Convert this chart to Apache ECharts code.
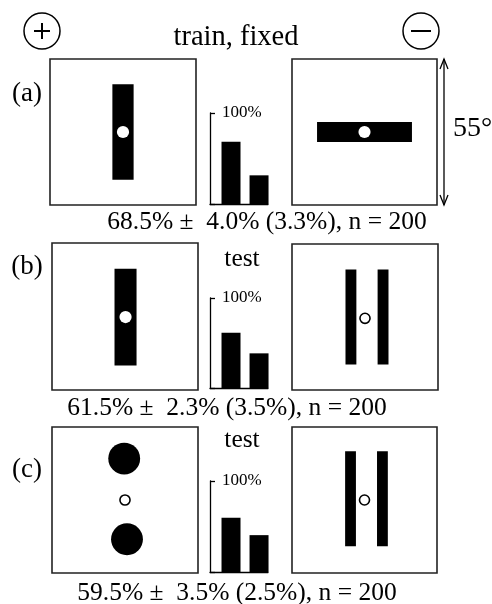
<!DOCTYPE html>
<html>
<head>
<meta charset="utf-8">
<script src="https://cdn.jsdelivr.net/npm/echarts@6/dist/echarts.min.js"></script>
<style>
html,body{margin:0;padding:0;background:#fff;}
#chart{width:492px;height:604px;}
</style>
</head>
<body>
<div id="chart"></div>
<script>
// ---------- data ----------
const conditionLabels = ['(a)', '(b)', '(c)'];
const panelTitles = ['train, fixed', 'test', 'test'];
const responseCategories = ['+', '\u2212'];
const percentA = [68.5, 31.5];
const percentB = [61.5, 38.5];
const percentC = [59.5, 40.5];
const statLabels = [
  '68.5% \u00b1  4.0% (3.3%), n = 200',
  '61.5% \u00b1  2.3% (3.5%), n = 200',
  '59.5% \u00b1  3.5% (2.5%), n = 200'
];
const percentTicks = [0, 100];
const percentTickLabels = ['', '100%'];
const fieldOfView = 55; // degrees
const fieldLabel = '55\u00b0';

// stimulus geometry in degrees of visual angle (centre x, centre y, width/height or radius)
const stimAPos = [['bar', 0, 0, 8, 36], ['fix', 0, 0, 2.3]];
const stimANeg = [['bar', 0, 0, 36, 7.6], ['fix', 0, 0, 2.3]];
const stimBPos = [['bar', 0.2, -0.2, 8.3, 36.2], ['fix', 0.2, -0.2, 2.3]];
const stimBNeg = [['bar', -5.3, 0, 4.1, 35.8], ['bar', 6.8, 0, 4.1, 35.8], ['ring', 0, -0.5, 1.9]];
const stimCPos = [['disk', -0.3, 15.6, 6], ['disk', 0.75, -14.8, 6], ['ring', 0, 0, 1.9]];
const stimCNeg = [['bar', -5.3, 0.45, 4.1, 35.8], ['bar', 6.8, 0.45, 4.1, 35.8], ['ring', 0, 0, 1.9]];

// ---------- layout ----------
const SERIF = "'Liberation Serif', 'Times New Roman', serif";
const percents = [percentA, percentB, percentC];
const stimuli = [stimAPos, stimANeg, stimBPos, stimBNeg, stimCPos, stimCNeg];

const barGrids = [
  {left: 210, top: 113, width: 58, height: 91},
  {left: 210, top: 298, width: 58, height: 90},
  {left: 210, top: 481, width: 58, height: 91}
];
const boxGrids = [
  {left: 50, top: 59, width: 146, height: 146},
  {left: 292, top: 59, width: 145, height: 146},
  {left: 52, top: 243, width: 146, height: 147},
  {left: 292, top: 244, width: 146, height: 146},
  {left: 52, top: 427, width: 146, height: 146},
  {left: 292, top: 427, width: 145, height: 146}
];

const grid = [], xAxis = [], yAxis = [], series = [];

barGrids.forEach((g, i) => {
  grid.push(Object.assign({outerBoundsMode: 'none', containLabel: false}, g));
  xAxis.push({
    type: 'value', gridIndex: i, min: -0.75, max: 1.32,
    axisLine: {show: true, lineStyle: {color: '#000', width: 1.3}},
    axisTick: {show: false}, axisLabel: {show: false}, splitLine: {show: false}
  });
  yAxis.push({
    type: 'value', gridIndex: i, min: percentTicks[0], max: percentTicks[1], interval: 100,
    axisLine: {show: true, onZero: false, lineStyle: {color: '#000', width: 1.3}},
    axisTick: {show: true, inside: true, length: 5, lineStyle: {color: '#000', width: 1.3}},
    axisLabel: {
      show: true, inside: true, margin: 12, color: '#000',
      fontFamily: SERIF, fontSize: 17,
      formatter: v => percentTickLabels[percentTicks.indexOf(v)] || ''
    },
    splitLine: {show: false}
  });
  series.push({
    type: 'bar', xAxisIndex: i, yAxisIndex: i,
    barWidth: 19, itemStyle: {color: '#000'},
    data: percents[i].map((v, k) => [k, v]),
    silent: true, animation: false
  });
});

function makeRender(shapes) {
  return function (params, api) {
    const s = shapes[params.dataIndex];
    if (s[0] === 'bar') {
      const p1 = api.coord([s[1] - s[3] / 2, s[2] + s[4] / 2]);
      const p2 = api.coord([s[1] + s[3] / 2, s[2] - s[4] / 2]);
      return {type: 'rect', shape: {x: p1[0], y: p1[1], width: p2[0] - p1[0], height: p2[1] - p1[1]},
              style: {fill: '#000'}};
    }
    const c = api.coord([s[1], s[2]]);
    const r = api.size([s[3], 0])[0];
    if (s[0] === 'disk') return {type: 'circle', shape: {cx: c[0], cy: c[1], r: r}, style: {fill: '#000'}};
    if (s[0] === 'fix') return {type: 'circle', shape: {cx: c[0], cy: c[1], r: r}, style: {fill: '#fff'}};
    return {type: 'circle', shape: {cx: c[0], cy: c[1], r: r}, style: {fill: '#fff', stroke: '#000', lineWidth: 1.6}};
  };
}

boxGrids.forEach((g, j) => {
  const gi = 3 + j;
  grid.push(Object.assign({outerBoundsMode: 'none', containLabel: false, show: true,
    borderColor: '#222', borderWidth: 1.6, backgroundColor: '#fff'}, g));
  const half = fieldOfView / 2;
  xAxis.push({type: 'value', gridIndex: gi, min: -half, max: half, show: false});
  yAxis.push({type: 'value', gridIndex: gi, min: -half, max: half, show: false});
  series.push({
    type: 'custom', xAxisIndex: gi, yAxisIndex: gi, clip: true,
    renderItem: makeRender(stimuli[j]),
    data: stimuli[j].map(s => [s[1], s[2]]),
    silent: true, animation: false
  });
});

function txt(text, x, y, size, align) {
  return {type: 'text', x: x, y: y, silent: true,
    style: {text: text, font: size + 'px ' + SERIF, fill: '#000', align: align || 'center', verticalAlign: 'middle'}};
}

const graphic = [
  txt(panelTitles[0], 236, 38, 28.5),
  txt(panelTitles[1], 242, 259, 25.5),
  txt(panelTitles[2], 242, 440, 25.5),
  txt(conditionLabels[0], 27, 94, 27),
  txt(conditionLabels[1], 27, 267, 27),
  txt(conditionLabels[2], 27, 470, 27),
  txt(statLabels[0], 267, 222, 25.5),
  txt(statLabels[1], 227, 408, 25.5),
  txt(statLabels[2], 237, 593, 25.5),
  txt(fieldLabel, 453, 129, 28, 'left'),
  // + and − response symbols
  {type: 'circle', shape: {cx: 42, cy: 31, r: 18}, style: {fill: 'none', stroke: '#000', lineWidth: 1.5}},
  {type: 'line', shape: {x1: 34, y1: 31, x2: 50, y2: 31}, style: {stroke: '#000', lineWidth: 2}},
  {type: 'line', shape: {x1: 42, y1: 23, x2: 42, y2: 39}, style: {stroke: '#000', lineWidth: 2}},
  {type: 'circle', shape: {cx: 421, cy: 31, r: 18}, style: {fill: 'none', stroke: '#000', lineWidth: 1.5}},
  {type: 'line', shape: {x1: 411, y1: 31, x2: 431, y2: 31}, style: {stroke: '#000', lineWidth: 2}},
  // 55° extent arrow
  {type: 'line', shape: {x1: 444, y1: 59, x2: 444, y2: 205}, style: {stroke: '#000', lineWidth: 1.3}},
  {type: 'polyline', shape: {points: [[440, 69], [444, 59], [448, 69]]}, style: {fill: 'none', stroke: '#000', lineWidth: 1.3}},
  {type: 'polyline', shape: {points: [[440, 195], [444, 205], [448, 195]]}, style: {fill: 'none', stroke: '#000', lineWidth: 1.3}}
];

const chart = echarts.init(document.getElementById('chart'), null, {renderer: 'canvas'});
chart.setOption({
  animation: false,
  backgroundColor: '#fff',
  grid: grid, xAxis: xAxis, yAxis: yAxis, series: series, graphic: graphic
});
</script>
</body>
</html>
